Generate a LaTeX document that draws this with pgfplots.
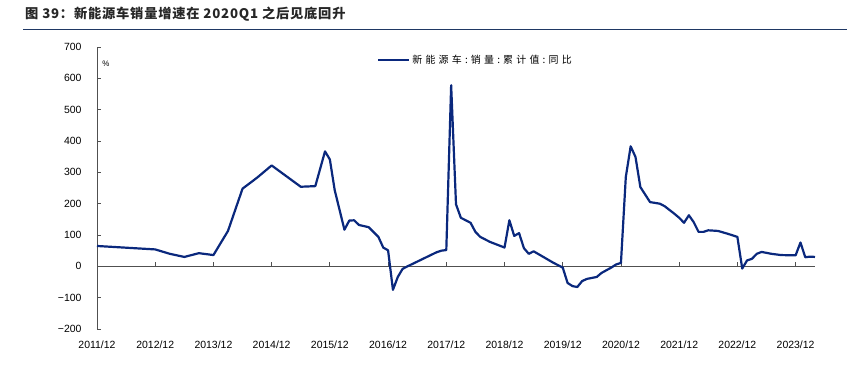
\documentclass[border=0pt]{standalone}
\usepackage{fontspec}
\setmainfont{Liberation Sans}
\newfontfamily\cjk{Noto Sans CJK SC}
\newfontfamily\cjktitle[LetterSpace=6]{Noto Sans CJK SC}
\newfontfamily\cjkleg[LetterSpace=32]{Noto Sans CJK SC}
\usepackage{pgfplots}
\pgfplotsset{compat=1.18}
\definecolor{navy}{RGB}{10,40,125}
\definecolor{rulec}{RGB}{31,56,100}
\definecolor{axgray}{RGB}{80,80,80}

\pgfplotstableread{
m v
0 65
12 54
15 40
18 30
21 42
24 36
27 113
30 248
33 283
36 322
42 254
45 256
47 367
48 341
49 243
51 117
52 146
53 147
54 132
56 125
58 94
59 60
60 51
61 -75
62 -34
63 -8
64 0
66 15
68 30
70 45
71 50
72 52
73 578
74 198
75 155
77 139
78 110
79 94
81 78
84 60
85 147
86 97
87 106
88 58
89 40
90 48
92 30
94 12
96 -4
97 -53
98 -63
99 -66
100 -47
101 -40
103 -34
104 -21
106 -4
107 6
108 11
109 285
110 383
111 349
112 253
114 205
116 200
117 192
118 180
119 168
120 155
121 139
122 163
123 141
124 110
125 110
126 115
128 113
130 104
132 94
133 -7
134 19
135 24
136 40
137 46
139 40
141 36
144 35
145 76
146 29
147 31
148 30
}\nev

\begin{document}
\begin{tikzpicture}
\path[use as bounding box] (0,0) rectangle (847bp,-378bp);
\node[anchor=west, font=\cjktitle\bfseries\fontsize{13.3}{15}\selectfont, text=black!85, inner sep=0] at (25bp,-14bp) {图 39：新能源车销量增速在 2020Q1 之后见底回升};
\draw[rulec, line width=1.5bp] (23bp,-29.5bp) -- (847bp,-29.5bp);
\node[font=\fontsize{8}{9}\selectfont, inner sep=0] at (106bp,-64bp) {\%};
\begin{axis}[
  at={(97bp,-329bp)}, anchor=south west,
  scale only axis, width=718bp, height=282bp,
  xmin=0, xmax=148, ymin=-200, ymax=700,
  axis lines=left,
  axis line style={-, draw=axgray, line width=0.9bp},
  x axis line style={draw=none},
  xtick={0,12,...,144},
  xticklabels={2011/12,2012/12,2013/12,2014/12,2015/12,2016/12,2017/12,2018/12,2019/12,2020/12,2021/12,2022/12,2023/12},
  xtick style={draw=none},
  ytick={-200,-100,0,100,200,300,400,500,600,700},
  yticklabels={−200,−100,0,100,200,300,400,500,600,700},
  tick align=inside, major tick length=4bp,
  ytick style={draw=axgray, line width=0.9bp},
  tick label style={font=\fontsize{10.5}{12}\selectfont, text=black},
  xticklabel style={yshift=-8bp},
  yticklabel style={xshift=-12bp},
  clip=false,
  legend style={at={(0.39,0.954)}, anchor=west, draw=none, fill=none, inner sep=0pt,
    font=\cjkleg\fontsize{10}{12}\selectfont},
  legend cell align=left,
  legend image code/.code={\draw[#1] (0bp,0bp) -- (31bp,0bp);},
]
\draw[axgray, line width=0.9bp] (axis cs:0,0) -- (axis cs:148,0);
\pgfplotsinvokeforeach{12,24,...,144}{\draw[axgray, line width=0.9bp] (axis cs:#1,0) -- ++(0bp,4bp);}
\addplot[navy, line width=2.2bp, line join=round] table[x=m, y=v] {\nev};
\addlegendentry{新能源车:销量:累计值:同比}
\end{axis}
\end{tikzpicture}
\end{document}
